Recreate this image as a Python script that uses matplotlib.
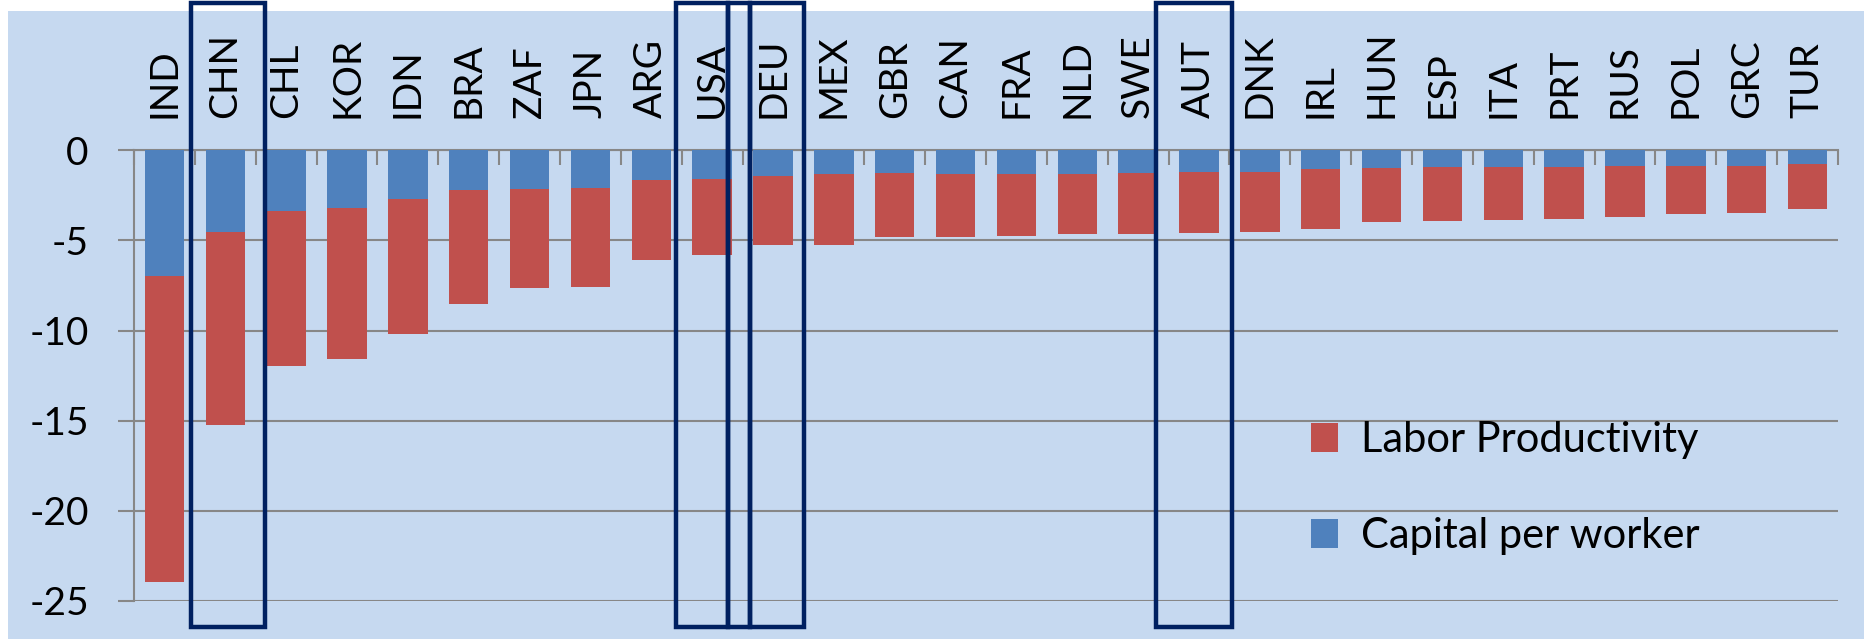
import matplotlib
matplotlib.use("Agg")
import matplotlib.pyplot as plt
from matplotlib.patches import Rectangle
from matplotlib.transforms import blended_transform_factory
import numpy as np

countries = ["IND", "CHN", "CHL", "KOR", "IDN", "BRA", "ZAF", "JPN", "ARG", "USA",
             "DEU", "MEX", "GBR", "CAN", "FRA", "NLD", "SWE", "AUT", "DNK", "IRL",
             "HUN", "ESP", "ITA", "PRT", "RUS", "POL", "GRC", "TUR"]
capital_per_worker = [-6.97, -4.55, -3.39, -3.21, -2.69, -2.22, -2.13, -2.06, -1.65, -1.58,
                      -1.43, -1.33, -1.27, -1.29, -1.29, -1.29, -1.24, -1.22, -1.22, -1.06,
                      -1.00, -0.93, -0.93, -0.90, -0.88, -0.84, -0.84, -0.75]
labor_productivity = [-16.99, -10.72, -8.56, -8.37, -7.49, -6.33, -5.52, -5.52, -4.44, -4.21,
                      -3.82, -3.90, -3.55, -3.53, -3.44, -3.37, -3.38, -3.37, -3.33, -3.28,
                      -2.98, -3.01, -2.92, -2.90, -2.79, -2.71, -2.62, -2.49]

# highlighted countries -> box span in category units
boxes = [(0.44, 1.65), (8.40, 9.26), (9.26, 9.62), (9.62, 10.51), (16.30, 17.55)]

RED = "#C0504D"
BLUE = "#4F81BD"
BG = "#C6D9F0"
GRID = "#878787"
NAVY = "#002060"
FONT = "Lato"

plt.rcParams["font.family"] = [FONT, "DejaVu Sans"]

fig = plt.figure(figsize=(18.64, 6.39), dpi=100)
fig.patch.set_facecolor("white")
fig.patches.append(Rectangle((8 / 1864, 0), 1 - 8 / 1864, 1 - 11.4 / 639,
                             transform=fig.transFigure, facecolor=BG,
                             edgecolor="none", zorder=-10))

ax = fig.add_axes([134 / 1864, 1 - 600.7 / 639, 1704 / 1864, 450.3 / 639])
ax.patch.set_visible(False)

x = np.arange(len(countries))
ax.bar(x, capital_per_worker, width=0.65, color=BLUE, label="Capital per worker", zorder=3)
ax.bar(x, labor_productivity, width=0.65, bottom=capital_per_worker, color=RED,
       label="Labor Productivity", zorder=3)

ax.set_xlim(-0.5, len(countries) - 0.5)
ax.set_ylim(-25, 0)
ax.set_yticks([0, -5, -10, -15, -20, -25])
ax.set_yticklabels(["0", "-5", "-10", "-15", "-20", "-25"])
ax.yaxis.grid(True, color=GRID, linewidth=1.5, zorder=1)
ax.set_axisbelow(True)

ax.xaxis.set_ticks_position("top")
ax.set_xticks(x)
ax.set_xticklabels(countries, rotation=90, fontsize=28)
ax.set_xticks(np.arange(-0.5, len(countries)), minor=True)
ax.tick_params(axis="x", which="major", length=0, pad=23)
ax.tick_params(axis="x", which="minor", top=True, bottom=False, direction="in",
               length=10.8, width=1.5, color=GRID)
ax.tick_params(axis="y", which="major", length=11.5, width=1.5, color=GRID,
               labelsize=28, pad=21)

for side in ["right", "bottom"]:
    ax.spines[side].set_visible(False)
for side in ["left", "top"]:
    ax.spines[side].set_color(GRID)
    ax.spines[side].set_linewidth(1.5)

handles, labels = ax.get_legend_handles_labels()
leg = ax.legend(handles[::-1], labels[::-1], loc="upper left",
                bbox_to_anchor=(1290 / 1864, 1 - 400 / 639),
                bbox_transform=fig.transFigure, frameon=False, fontsize=30,
                handlelength=0.65, handleheight=0.7, handletextpad=0.55,
                labelspacing=1.39, borderpad=0)

trans = blended_transform_factory(ax.transData, fig.transFigure)
for x0, x1 in boxes:
    ax.add_patch(Rectangle((x0, 0.018), x1 - x0, 0.9948 - 0.018, transform=trans,
                           fill=False, edgecolor=NAVY, linewidth=3.2,
                           clip_on=False, zorder=5))

plt.savefig("out.png", dpi=100)
plt.close()
